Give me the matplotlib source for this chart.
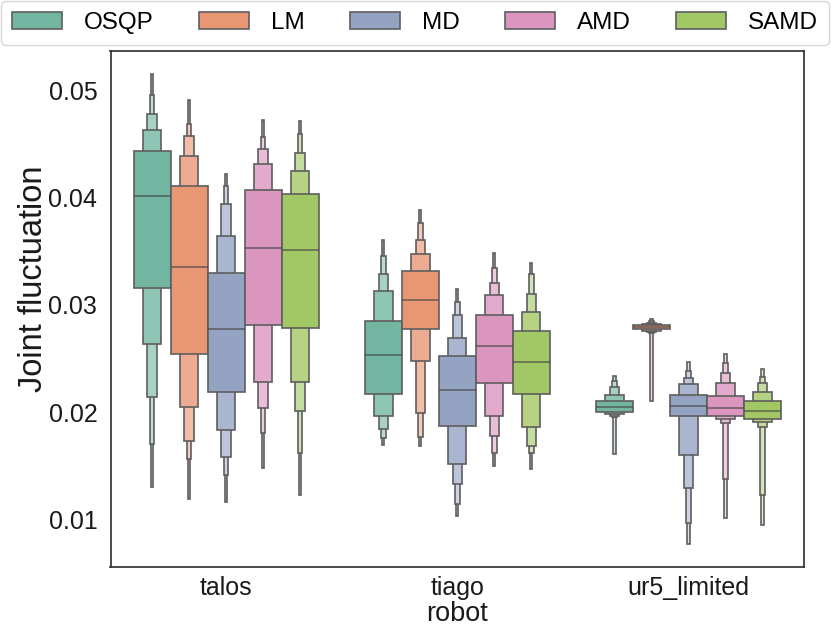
import colorsys
import matplotlib
matplotlib.use("Agg")
import matplotlib.pyplot as plt
from matplotlib.patches import Patch
import matplotlib.colors as mcolors

robots = ["talos", "tiago", "ur5_limited"]
methods = ["OSQP", "LM", "MD", "AMD", "SAMD"]

# Letter values per method, listed from the innermost box (quartiles) outwards
talos_upper = [
    [0.0443, 0.0463, 0.0478, 0.0495, 0.0515],
    [0.0411, 0.0439, 0.0457, 0.0468, 0.0491],
    [0.0330, 0.0364, 0.0394, 0.0411, 0.0422],
    [0.0407, 0.0431, 0.0445, 0.0456, 0.0472],
    [0.0403, 0.0425, 0.0441, 0.0459, 0.0471],
]
talos_lower = [
    [0.0316, 0.0263, 0.0214, 0.0170, 0.0130],
    [0.0254, 0.0205, 0.0173, 0.0156, 0.0119],
    [0.0219, 0.0183, 0.0158, 0.0141, 0.0116],
    [0.0281, 0.0228, 0.0204, 0.0181, 0.0148],
    [0.0278, 0.0228, 0.0201, 0.0162, 0.0123],
]
talos_median = [0.0401, 0.0335, 0.0277, 0.0353, 0.0351]

tiago_upper = [
    [0.0285, 0.0313, 0.0329, 0.0345, 0.0360],
    [0.0331, 0.0347, 0.0360, 0.0376, 0.0388],
    [0.0252, 0.0269, 0.0290, 0.0303, 0.0315],
    [0.0290, 0.0309, 0.0320, 0.0334, 0.0348],
    [0.0276, 0.0293, 0.0310, 0.0329, 0.0339],
]
tiago_lower = [
    [0.0217, 0.0196, 0.0184, 0.0176, 0.0169],
    [0.0277, 0.0248, 0.0199, 0.0177, 0.0168],
    [0.0187, 0.0152, 0.0133, 0.0114, 0.0103],
    [0.0227, 0.0196, 0.0178, 0.0162, 0.0150],
    [0.0217, 0.0186, 0.0168, 0.0162, 0.0147],
]
tiago_median = [0.0253, 0.0304, 0.0221, 0.0262, 0.0247]

ur5_upper = [
    [0.0210, 0.0216, 0.0223, 0.0229, 0.0234],
    [0.0281, 0.02816, 0.0283, 0.0285, 0.0287],
    [0.0216, 0.0226, 0.0232, 0.0238, 0.0247],
    [0.0215, 0.0227, 0.0236, 0.0246, 0.0254],
    [0.0210, 0.0219, 0.0227, 0.0233, 0.0240],
]
ur5_lower = [
    [0.0200, 0.0198, 0.0196, 0.0195, 0.0161],
    [0.0277, 0.02755, 0.0275, 0.0274, 0.0210],
    [0.0196, 0.0160, 0.0129, 0.0097, 0.0077],
    [0.0196, 0.0194, 0.0190, 0.0138, 0.0101],
    [0.0194, 0.0191, 0.0186, 0.0123, 0.0095],
]
ur5_median = [0.0205, 0.0279, 0.0206, 0.0204, 0.0201]

upper = [talos_upper, tiago_upper, ur5_upper]
lower = [talos_lower, tiago_lower, ur5_lower]
median = [talos_median, tiago_median, ur5_median]

# ---- style ----
plt.rcParams["font.family"] = ["Liberation Sans", "DejaVu Sans"]
base_hex = ["#66c2a5", "#fc8d62", "#8da0cb", "#e78ac3", "#a6d854"]


def desaturate(hx, prop):
    r, g, b = mcolors.to_rgb(hx)
    h, l, s = colorsys.rgb_to_hls(r, g, b)
    return colorsys.hls_to_rgb(h, l, s * prop)


def tint(c, t):
    return tuple(ci + (1 - ci) * t for ci in c)


main_colors = [desaturate(h, 0.75) for h in base_hex]
tints = [0.0, 0.2, 0.37, 0.52, 0.65]
edge = "#5e5e5e"
lw = 1.2

fig = plt.figure(figsize=(8.31, 6.29), dpi=100)
ax = fig.add_axes([110.5 / 831, 1 - 566.5 / 629, (804 - 110.5) / 831, (566.5 - 50.5) / 629])

group_w = 0.8
n = len(methods)
box_w = group_w / n
for i, r in enumerate(robots):
    for j, m in enumerate(methods):
        x = i + (j - (n - 1) / 2) * box_w
        ups = upper[i][j]
        los = lower[i][j]
        k = len(ups)
        for lev in range(k - 1, -1, -1):
            w = box_w * 2.0 ** (-lev)
            ax.bar(x, ups[lev] - los[lev], bottom=los[lev], width=w,
                   color=tint(main_colors[j], tints[lev]), edgecolor=edge,
                   linewidth=lw, zorder=2)
        ax.plot([x - box_w / 2, x + box_w / 2], [median[i][j]] * 2,
                color="#454545", lw=1.2, alpha=0.7, zorder=3,
                solid_capstyle="butt")

ax.set_xlim(-0.5, 2.5)
ax.set_ylim(0.00562, 0.05368)
ax.set_xticks(range(len(robots)))
ax.set_xticklabels(robots)
ax.set_yticks([0.01, 0.02, 0.03, 0.04, 0.05])
ax.set_yticklabels(["0.01", "0.02", "0.03", "0.04", "0.05"])
ax.tick_params(axis="y", length=0, labelsize=18, pad=9.5, colors="#1a1a1a")
ax.tick_params(axis="x", length=0, labelsize=18, pad=7, colors="#1a1a1a")
ax.set_xlabel("robot", fontsize=19.5, color="#1a1a1a", labelpad=0.5)
ax.set_ylabel("Joint fluctuation", fontsize=23.5, color="#1a1a1a")
ax.yaxis.set_label_coords((49 - 110.5) / 693.5, (566.5 - 279) / 516)
for s in ax.spines.values():
    s.set_color("#333333")
    s.set_linewidth(1.25)

handles = [Patch(facecolor=c, edgecolor=edge, linewidth=lw) for c in main_colors]
leg = fig.legend(handles, methods, loc="upper left", ncol=5, mode="expand",
                 bbox_to_anchor=(1 / 831, 1 - 1 / 629, 828 / 831, 0.0),
                 borderaxespad=0, fontsize=17.5, handlelength=2.05,
                 handleheight=0.7, handletextpad=0.9, frameon=True,
                 fancybox=True, edgecolor="#cccccc", borderpad=0.45)
leg.get_frame().set_linewidth(1.0)

fig.savefig("out.png", dpi=100)
